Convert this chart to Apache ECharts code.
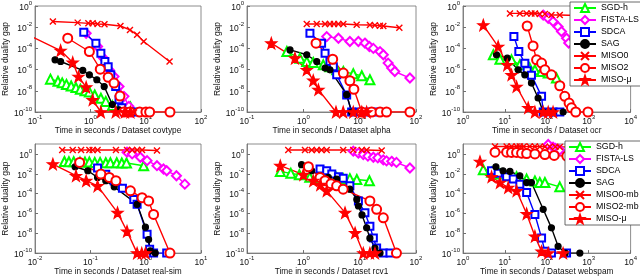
<!DOCTYPE html>
<html><head><meta charset="utf-8">
<script src="https://cdn.jsdelivr.net/npm/echarts@6/dist/echarts.min.js"></script>
<style>html,body{margin:0;padding:0;background:#fff}#c{width:640px;height:277px}</style>
</head><body><div id="c"></div><script>
// ---------- data: [time in seconds, relative duality gap] ----------
// covtype
const covtypeSGD = [[0.19,1.26e-7],[0.26,7.9e-8],[0.31,5.6e-8],[0.37,4e-8],[0.45,2.8e-8],[0.55,2e-8],[0.66,1.4e-8],[0.8,1e-8],[0.96,7.9e-9],[1.2,4e-9],[1.55,2e-9],[1.9,1e-9],[2.5,4e-10],[3.3,2.5e-10],[5.3,3e-10]];
const covtypeFISTA = [[0.84,2.7e-3],[1.35,1.5e-4],[1.73,1.2e-5],[2.18,9.5e-7],[2.68,2.2e-7],[3.3,2.5e-8],[4.05,3e-9],[4.97,3.4e-10],[5.7,1e-10]];
const covtypeSDCA = [[0.76,3.3e-3],[1.26,3.1e-4],[1.55,3.5e-5],[1.83,5.8e-6],[2.1,1.9e-6],[2.34,3.2e-7],[2.87,2.5e-8],[3.3,1.4e-9],[3.7,2.5e-10],[4.2,1e-10],[5.3,1e-10],[7.0,1e-10]];
const covtypeSAG = [[0.23,8.3e-6],[0.29,5.8e-6],[0.73,8.3e-7],[0.96,3.2e-7],[1.31,1.1e-7],[1.78,2.5e-8],[2.5,5e-10],[3.3,1.6e-10],[4.3,1e-10]];
const covtypeMISO0 = [[0.21,3.4e-2],[0.59,2.7e-2],[0.92,2.3e-2],[1.1,2.3e-2],[1.35,2.0e-2],[1.8,1.9e-2],[3.5,1.3e-2],[5.2,5.5e-3],[7.0,1.9e-3],[9.2,4.5e-4],[27,5.8e-6]];
const covtypeMISO2 = [[0.39,9.1e-4],[0.96,5.1e-5],[1.51,1.1e-6],[2.1,1.9e-7],[2.68,5.4e-8],[3.43,3.2e-9],[4.05,1e-10],[5.2,1e-10],[7.8,1e-10],[10.1,1e-10],[11.8,1e-10],[27.5,1e-10]];
const covtypeMISOmu = [[0.05,5.1e-3],[0.29,6.3e-5],[0.48,4.7e-6],[0.61,2.2e-7],[0.84,2.2e-8],[1.1,1.4e-9],[1.55,1e-10],[2.87,1e-10],[4.2,1e-10],[5.3,1e-10]];
// alpha
const alphaSGD = [[0.51,5.1e-5],[0.87,1.2e-5],[1.15,5.8e-6],[1.5,4.7e-6],[2.26,2.8e-6],[2.97,1.9e-6],[3.91,9.5e-7],[5.13,6.6e-7],[7.7,4e-7],[10.9,2.6e-7],[15.2,1.1e-7]];
const alphaFISTA = [[2.6,1.3e-3],[4.2,9.1e-4],[6.7,4.5e-4],[9.5,4.5e-4],[12.4,3.2e-4],[14.9,1.5e-4],[17.5,1e-4],[23,5e-5],[26.3,2.5e-5],[32,4.1e-6],[37,1.4e-6],[42,6.6e-7],[78,1.6e-7]];
const alphaSDCA = [[1.31,2.7e-3],[2.11,3.1e-4],[2.43,3.5e-5],[2.97,5.8e-6],[3.41,1.9e-6],[3.91,3.2e-7],[5.88,4e-9],[7.2,1e-10],[10,1e-10],[15,1e-10],[21.4,1e-10]];
const alphaSAG = [[0.58,7.2e-5],[1.15,2.5e-5],[1.73,5.8e-6],[2.43,1.4e-6],[2.97,9.5e-7],[5.88,4.3e-9],[7.2,1e-10],[11.6,1e-10],[16.3,1e-10],[23,1e-10]];
const alphaMISO0 = [[1.15,2e-2],[1.73,2e-2],[2.43,2e-2],[2.97,2e-2],[3.5,2e-2],[4.18,2e-2],[5.13,2e-2],[8.85,1.7e-2],[15.2,1.6e-2],[18.6,1.5e-2],[22.9,1.4e-2],[26.3,1.3e-2],[50.6,9e-3]];
const alphaMISO2 = [[1.68,3.1e-4],[3.32,9.5e-6],[5.13,4.7e-7],[6.7,8.9e-8],[7.9,1.4e-8],[10.9,1e-10],[16.3,1e-10],[23,1e-10],[30,1e-10],[78,1e-10]];
const alphaMISOmu = [[0.27,3.1e-4],[0.71,1.2e-5],[1.15,9.5e-7],[1.5,9.5e-8],[1.85,1.3e-8],[3.8,1e-10],[5.1,1e-10],[7.7,1e-10],[10.9,1e-10],[13.3,1e-10]];
// ocr
const ocrSGD = [[5.3,2.5e-5],[7.6,9.5e-6],[14.4,8.3e-6],[22.7,2.8e-6],[39,1.4e-6],[52,9.5e-7],[75,6.6e-7],[108,4.7e-7],[170,1.6e-7]];
const ocrFISTA = [[82,0.14],[108,6.9e-2],[141,3.4e-2],[186,1.1e-2],[224,3.9e-3],[296,9.1e-4],[333,3.2e-4],[2200,1e-5],[8000,1e-6]];
const ocrSDCA = [[16.4,1.3e-3],[21.5,5e-5],[29.9,4e-6],[34,8e-7],[43,3e-7],[75,3e-9],[82,1e-10],[141,1e-10],[204,1e-10]];
const ocrSAG = [[6.3,2.5e-5],[11.4,1.2e-5],[20.8,9.5e-7],[29.9,3.2e-7],[43,5.4e-8],[62,2.1e-9],[82,1e-10],[141,1e-10],[245,1e-10]];
const ocrMISO0 = [[13.2,0.2],[22.7,0.2],[32.8,0.2],[43,0.2],[52,0.2],[68,0.18],[90,0.18],[129,0.14],[204,0.14],[880,0.12],[5500,0.1]];
const ocrMISO2 = [[34,1.3e-2],[47,1.7e-4],[57,8.3e-6],[75,4.1e-6],[90,9.5e-7],[129,3.2e-7],[204,3e-8],[269,3e-9],[340,7e-10],[388,2.5e-10],[490,1e-10],[960,1e-10]];
const ocrMISOmu = [[3.05,1.6e-2],[6.9,1.5e-4],[11.4,2.8e-6],[14.4,3.2e-7],[19,2.5e-8],[36,2.5e-10],[52,1e-10],[82,1e-10],[108,1e-10],[141,1e-10]];
// real-sim
const realsimSGD = [[0.034,0.17],[0.041,0.16],[0.05,0.16],[0.065,0.15],[0.08,0.15],[0.096,0.15],[0.12,0.14],[0.15,0.14],[0.19,0.13],[0.23,0.13],[0.3,0.13],[0.37,0.12],[0.45,0.12],[0.92,0.065]];
const realsimFISTA = [[0.46,1.5],[0.57,1.0],[0.8,0.46],[1.06,0.21],[1.6,6.5e-2],[2.1,3e-2],[2.4,2e-2],[3.6,6.3e-3],[5.1,9e-4]];
const realsimSDCA = [[0.135,3.8e-2],[0.19,9.1e-3],[0.27,1.9e-3],[0.38,3.5e-4],[0.61,2.6e-5],[0.7,8.3e-6],[1.06,7.9e-9],[1.18,2.5e-10],[1.39,1e-10],[2.4,1e-10]];
const realsimSAG = [[0.053,5.1e-2],[0.09,2e-2],[0.135,4.3e-3],[0.19,2e-3],[0.27,4.8e-4],[0.7,8.3e-6],[0.99,4.1e-8],[1.13,2.3e-9],[1.21,1.7e-10],[1.49,1e-10]];
const realsimMISO0 = [[0.031,2.5],[0.048,2.5],[0.068,2.5],[0.096,2.5],[0.11,2.5],[0.135,2.5],[0.29,2.5],[0.46,2.5],[0.57,2.5],[0.7,2.5],[0.86,2.5],[1.6,2.2]];
const realsimMISO2 = [[0.064,0.14],[0.155,9.3e-3],[0.22,4.3e-3],[0.29,2e-3],[0.53,1.9e-4],[0.86,3.9e-5],[1.13,1.8e-5],[1.39,7.9e-7],[2.75,1e-10]];
const realsimMISOmu = [[0.021,9.5e-2],[0.055,6.3e-3],[0.084,2e-3],[0.135,6e-4],[0.31,1.2e-6],[0.46,1.6e-8],[0.7,1e-10],[0.85,1e-10],[0.99,1e-10]];
// rcv1
const rcv1SGD = [[0.39,1.7e-2],[0.6,1.1e-2],[0.85,8e-3],[1.3,4.5e-3],[2.0,4.5e-3],[3.0,3.9e-3],[3.9,3.9e-3],[5.1,3.2e-3],[6.7,3.2e-3],[8.9,2.6e-3],[14.9,2e-3]];
const rcv1FISTA = [[7.7,1.9],[9.5,1.2],[11.6,0.85],[14,0.6],[17.5,0.46],[21,0.4],[26.3,0.25],[30,0.2],[37,0.18],[45,0.14],[78,3.8e-2]];
const rcv1SDCA = [[1.98,3e-2],[2.6,2e-2],[3.2,9.3e-3],[4.2,5e-3],[5.1,3.6e-3],[6.7,6e-4],[9.5,1.8e-5],[12.4,1.2e-6],[15.2,5.1e-8],[17.5,3.4e-9],[20,3.2e-10],[26.3,1e-10],[34.5,1e-10]];
const rcv1SAG = [[0.93,8.3e-2],[1.41,2e-2],[1.98,6.3e-3],[2.78,4.3e-3],[3.9,2.9e-3],[6.7,2.8e-4],[8.9,2.6e-5],[9.5,5.6e-6],[11,7e-7],[13.3,3.5e-8],[15.2,3.2e-9],[18.7,3.2e-10],[23,1e-10]];
const rcv1MISO0 = [[0.54,2.5],[1.07,2.5],[1.41,2.5],[1.73,2.5],[2.1,2.5],[2.6,2.5],[5.1,2.5],[7.7,2.5],[10.9,2.5],[13.3,2.5],[24.6,2.2]];
const rcv1MISO2 = [[1.23,5.1e-2],[1.98,4.3e-3],[2.43,2e-3],[3.1,1e-3],[3.9,6e-4],[5.1,2.8e-4],[15.2,1.8e-5],[20,2.6e-6],[26.3,3.6e-7],[45,1e-10]];
const rcv1MISOmu = [[0.39,6.5e-2],[1.0,8e-3],[1.5,2e-3],[2.0,8e-4],[2.6,1.9e-4],[5.5,1.2e-6],[8.3,1.1e-8],[11.6,1e-10],[15.2,1e-10],[18.7,1e-10]];
// webspam
const webspamSGD = [[3.05,2.6e-2],[4.8,1.4e-2],[7.6,9.3e-3],[12,6.3e-3],[19,5e-3],[33,2.9e-3],[52,1.9e-3],[68,1.3e-3],[90,1.3e-3],[204,4.8e-4]];
const webspamFISTA = [[108,8.9],[141,4.8],[160,3.5],[204,2.5],[800,1.0],[3000,0.3]];
const webspamSDCA = [[4.8,2e-2],[6.9,1.1e-2],[11,5e-3],[15.8,2.9e-3],[22.7,8.9e-4],[33,1.3e-4],[52,7.9e-7],[75,3.4e-9],[90,1.5e-10],[129,1e-10],[296,1e-10]];
const webspamSAG = [[6.1,5.1e-2],[9,2e-2],[13.2,1.7e-2],[22.7,6.3e-3],[33,1.3e-3],[43,1.3e-3],[82,2.6e-6],[129,3.5e-8],[186,4.8e-10],[275,1e-10],[615,1e-10]];
const webspamMISO0mb = [[5.8,5.6],[11,5.6],[14.4,5.6],[19,5.6],[22.7,5.6],[28,5.6],[39,5.5],[52,5.5],[68,5.4],[90,5.3],[118,5.3],[160,5.2],[204,5.1],[400,5],[900,5]];
const webspamMISO2mb = [[5.8,1.5],[11,1.5],[14.4,1.4],[19,1.4],[25,1.2],[33,1.1],[52,1.0],[90,0.85],[150,0.7],[300,0.6],[1000,0.5]];
const webspamMISOmu = [[2.54,0.17],[4.8,5e-3],[7.6,1.3e-3],[12,4.1e-4],[19,1.9e-4],[33,9.3e-7],[52,5e-9],[75,1.5e-10],[108,1e-10],[245,1e-10]];

const datasetNames = ['covtype','alpha','ocr','real-sim','rcv1','webspam'];
const xRanges = [[0.1,100],[0.1,100],[1,10000],[0.01,10],[0.1,100],[1,10000]];
const yRanges = [[1e-10,1],[1e-10,1],[1e-10,1],[1e-10,10],[1e-10,10],[1e-10,10]];
const topLegend = ['SGD-h','FISTA-LS','SDCA','SAG','MISO0','MISO2','MISO-\u03bc'];
const bottomLegend = ['SGD-h','FISTA-LS','SDCA','SAG','MISO0-mb','MISO2-mb','MISO-\u03bc'];

const panelSeries = [
  [['SGD-h',covtypeSGD],['FISTA-LS',covtypeFISTA],['SDCA',covtypeSDCA],['SAG',covtypeSAG],['MISO0',covtypeMISO0],['MISO2',covtypeMISO2],['MISO-\u03bc',covtypeMISOmu]],
  [['SGD-h',alphaSGD],['FISTA-LS',alphaFISTA],['SDCA',alphaSDCA],['SAG',alphaSAG],['MISO0',alphaMISO0],['MISO2',alphaMISO2],['MISO-\u03bc',alphaMISOmu]],
  [['SGD-h',ocrSGD],['FISTA-LS',ocrFISTA],['SDCA',ocrSDCA],['SAG',ocrSAG],['MISO0',ocrMISO0],['MISO2',ocrMISO2],['MISO-\u03bc',ocrMISOmu]],
  [['SGD-h',realsimSGD],['FISTA-LS',realsimFISTA],['SDCA',realsimSDCA],['SAG',realsimSAG],['MISO0',realsimMISO0],['MISO2',realsimMISO2],['MISO-\u03bc',realsimMISOmu]],
  [['SGD-h',rcv1SGD],['FISTA-LS',rcv1FISTA],['SDCA',rcv1SDCA],['SAG',rcv1SAG],['MISO0',rcv1MISO0],['MISO2',rcv1MISO2],['MISO-\u03bc',rcv1MISOmu]],
  [['SGD-h',webspamSGD],['FISTA-LS',webspamFISTA],['SDCA',webspamSDCA],['SAG',webspamSAG],['MISO0-mb',webspamMISO0mb],['MISO2-mb',webspamMISO2mb],['MISO-\u03bc',webspamMISOmu]]
];

// ---------- styling ----------
const FONT = 'Liberation Sans, Arial, Helvetica, sans-serif';
function starPath(){
  const p=[];
  for(let i=0;i<10;i++){const r=i%2?0.4:1;const a=-Math.PI/2+i*Math.PI/5;p.push((50+50*r*Math.cos(a)).toFixed(2)+','+(50+50*r*Math.sin(a)).toFixed(2));}
  return 'path://M'+p.join('L')+'Z';
}
const styles = {
  'SGD-h':{color:'#00ff00',symbol:'emptyTriangle',size:9},
  'FISTA-LS':{color:'#ff00ff',symbol:'emptyDiamond',size:9},
  'SDCA':{color:'#0000ff',symbol:'emptyRect',size:7},
  'SAG':{color:'#000000',symbol:'circle',size:6},
  'MISO0':{color:'#ff0000',symbol:'path://M0,0L10,10M10,0L0,10',size:6,stroke:true},
  'MISO0-mb':{color:'#ff0000',symbol:'path://M0,0L10,10M10,0L0,10',size:6,stroke:true},
  'MISO2':{color:'#ff0000',symbol:'emptyCircle',size:9},
  'MISO2-mb':{color:'#ff0000',symbol:'emptyCircle',size:9},
  'MISO-\u03bc':{color:'#ff0000',symbol:starPath(),size:11}
};

const lefts=[33,247,463], widths=[168,169,168];
const tops=[6,144], heights=[106,110];

function expLabel(v){const e=Math.round(Math.log10(v));return '{b|10}{s|'+e+'}';}
const rich = {b:{fontSize:8.5,fontFamily:FONT,color:'#111',padding:[3,0,0,0]},s:{fontSize:6,fontFamily:FONT,color:'#111',verticalAlign:'top'}};

const grid=[],xAxis=[],yAxis=[],series=[];
for(let i=0;i<6;i++){
  const r=Math.floor(i/3),c=i%3;
  grid.push({left:lefts[c],top:tops[r],width:widths[c],height:heights[r],show:true,borderColor:'#707070',borderWidth:0.8,containLabel:false});
  const xr=xRanges[i], yr=yRanges[i];
  xAxis.push({type:'log',logBase:10,gridIndex:i,min:xr[0],max:xr[1],interval:1,
    name:'Time in seconds / Dataset '+datasetNames[i],nameLocation:'middle',nameGap:13,
    nameTextStyle:{fontSize:8.3,fontFamily:FONT,color:'#111'},
    axisLine:{lineStyle:{color:'#707070',width:0.8}},axisTick:{inside:true,length:3,lineStyle:{color:'#707070'}},
    splitLine:{show:false},axisLabel:{formatter:expLabel,rich:rich,margin:2}});
  yAxis.push({type:'log',logBase:10,gridIndex:i,min:yr[0],max:yr[1],interval:2,
    name:'Relative duality gap',nameLocation:'middle',nameGap:22,nameRotate:90,
    nameTextStyle:{fontSize:8.5,fontFamily:FONT,color:'#111'},
    axisLine:{lineStyle:{color:'#707070',width:0.8}},axisTick:{inside:true,length:3,lineStyle:{color:'#707070'}},
    splitLine:{show:false},axisLabel:{formatter:expLabel,rich:rich,margin:3,showMaxLabel:yr[1]<=1}});
  panelSeries[i].forEach(([name,data])=>{
    const st=styles[name];
    const s={type:'line',name:name,xAxisIndex:i,yAxisIndex:i,data:data,symbol:st.symbol,symbolSize:st.size,
      showAllSymbol:true,clip:true,animation:false,
      lineStyle:{color:st.color,width:1.4},
      itemStyle:{color:st.color,borderColor:st.color,borderWidth:st.stroke?1.4:1.2}};
    series.push(s);
  });
}
const legendBase={orient:'vertical',itemWidth:22,itemHeight:10,itemGap:2,
  textStyle:{fontSize:8.8,fontFamily:FONT,color:'#000'},backgroundColor:'#fff',borderColor:'#444',borderWidth:0.8,
  padding:[1,3,1,3],selectedMode:false,z:10};
const chart=echarts.init(document.getElementById('c'),null,{renderer:'canvas'});
chart.setOption({animation:false,backgroundColor:'#fff',textStyle:{fontFamily:FONT},
  grid,xAxis,yAxis,series,
  legend:[Object.assign({},legendBase,{data:topLegend,left:570,top:2}),Object.assign({},legendBase,{data:bottomLegend,left:565,top:141})]});
</script></body></html>
